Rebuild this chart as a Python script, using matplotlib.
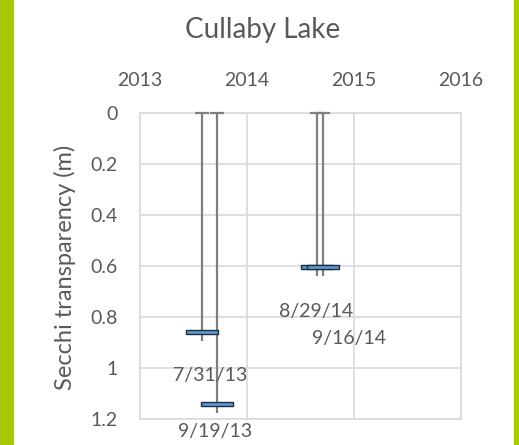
"""Cullaby Lake Secchi transparency chart."""

import datetime as dt

import matplotlib

matplotlib.use("Agg")
import matplotlib.pyplot as plt
from matplotlib.patches import Rectangle

# sample dates and depths (m)
dates = ["7/31/13", "9/19/13", "8/29/14", "9/16/14"]
depths = [0.86, 1.14, 0.605, 0.605]
year_ticks = [2013, 2014, 2015, 2016]
depth_ticks = [0, 0.2, 0.4, 0.6, 0.8, 1, 1.2]
depth_tick_labels = ["0", "0.2", "0.4", "0.6", "0.8", "1", "1.2"]
# label offsets in pixels from each marker
label_offsets = [(8, -43), (-1, -28), (-1, -44), (26, -71)]


def decimal_year(label):
    d = dt.datetime.strptime(label, "%m/%d/%y")
    start = dt.datetime(d.year, 1, 1)
    return d.year + (d - start).days / 365.0


TEXT = "#595959"
GRID = "#d9d9d9"
plt.rcParams["font.family"] = ["Lato", "DejaVu Sans"]

fig = plt.figure(figsize=(5.19, 4.45), dpi=100)
ax = fig.add_axes([140 / 519, 1 - 419 / 445, 321 / 519, 306 / 445])

xs = [decimal_year(d) for d in dates]

# stems from the surface down past each reading
ax.vlines(xs, 0, [v + 0.035 for v in depths], color="#7f7f7f", lw=1.6, zorder=3)
ax.plot(xs, [0] * len(xs), ls="none", marker="_", ms=10, mew=1.6,
        color="#7f7f7f", zorder=3, clip_on=False)

bar = [(-1, -0.15), (1, -0.15), (1, 0.15), (-1, 0.15), (-1, -0.15)]
ax.plot(xs, depths, ls="none", marker=bar, ms=23, mfc="#5b9bd5",
        mec="#1f2d3d", mew=1.0, zorder=4, clip_on=False)

for x, y, lab, off in zip(xs, depths, dates, label_offsets):
    ax.annotate(lab, (x, y), xytext=off, textcoords="offset pixels",
                ha="center", va="center", fontsize=14, color=TEXT,
                annotation_clip=False)

ax.set_xlim(2013, 2016)
ax.set_ylim(1.2, 0)
ax.set_xticks(year_ticks)
ax.set_xticklabels([str(y) for y in year_ticks])
ax.set_yticks(depth_ticks)
ax.set_yticklabels(depth_tick_labels)
ax.xaxis.tick_top()
ax.tick_params(axis="x", length=0, pad=17, labelsize=14, labelcolor=TEXT)
ax.tick_params(axis="y", length=0, pad=16, labelsize=14, labelcolor=TEXT)
ax.grid(True, color=GRID, lw=1.2)
ax.set_axisbelow(True)
for s in ax.spines.values():
    s.set_color(GRID)
    s.set_linewidth(1.2)

fig.text(65 / 519, 1 - 267 / 445, "Secchi transparency (m)", rotation=90,
         ha="center", va="center", fontsize=17, color=TEXT)
fig.text(263 / 519, 1 - 30 / 445, "Cullaby Lake", ha="center", va="center",
         fontsize=20, color=TEXT)

# green side borders
fig.patches.append(Rectangle((0, 0), 13 / 519, 1, transform=fig.transFigure,
                             color="#a9c800", zorder=0))
fig.patches.append(Rectangle((514 / 519, 0), 5 / 519, 1, transform=fig.transFigure,
                             color="#a9c800", zorder=0))

fig.savefig("out.png", dpi=100)
